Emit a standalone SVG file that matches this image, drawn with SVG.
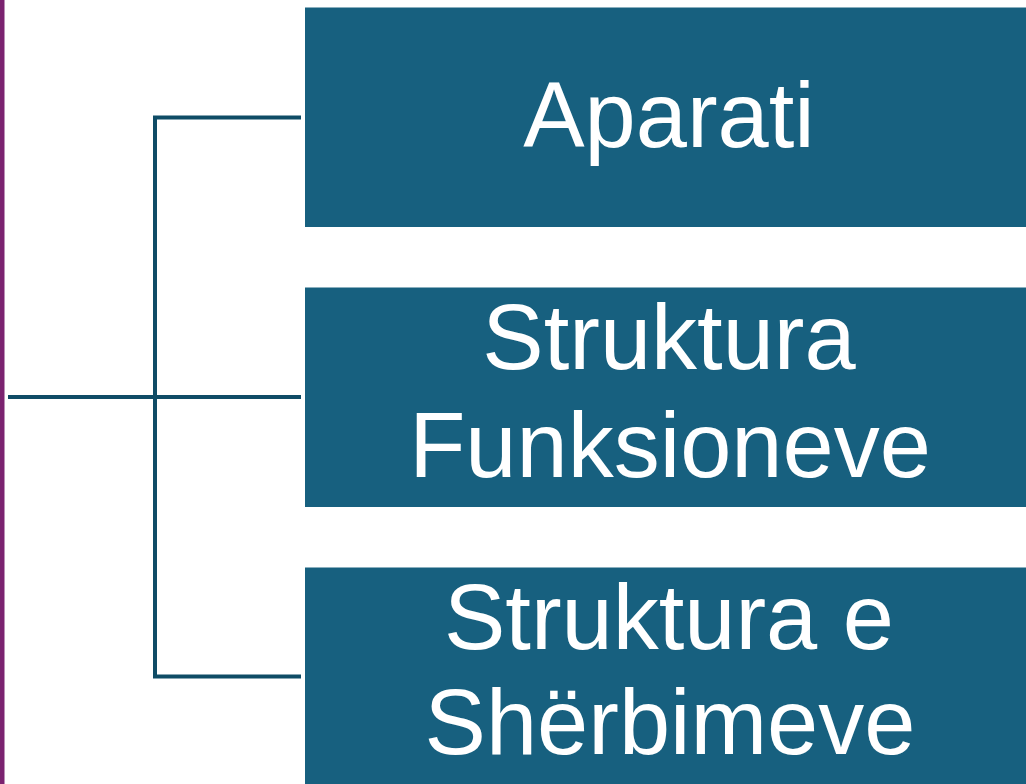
<svg xmlns="http://www.w3.org/2000/svg" width="1026" height="784" viewBox="0 0 1026 784">
<style>
.box{fill:#17607F}
.lbl{font-family:"Liberation Sans",Arial,sans-serif;font-size:92px;fill:#FFFFFF;text-anchor:middle}
.con{stroke:#0F4C66;stroke-width:4;fill:none}
</style>
<rect x="0" y="0" width="1026" height="784" fill="#FFFFFF"/>
<rect x="0" y="0" width="4.5" height="784" fill="#7B2370"/>
<g id="connectors">
<path class="con" d="M8 397 H301"/>
<path class="con" d="M155 117.5 V676.5"/>
<path class="con" d="M153 117.5 H301"/>
<path class="con" d="M153 676.5 H301"/>
</g>
<g id="node-aparati">
<rect class="box" x="305" y="7.5" width="721" height="219.5"/>
<text class="lbl" x="669" y="147">Aparati</text>
</g>
<g id="node-funksioneve">
<rect class="box" x="305" y="287.5" width="721" height="219.5"/>
<text class="lbl" x="669" y="369">Struktura</text>
<text class="lbl" x="670" y="477">Funksioneve</text>
</g>
<g id="node-sherbimeve">
<rect class="box" x="305" y="567.5" width="721" height="216.5"/>
<text class="lbl" x="669" y="649">Struktura e</text>
<text class="lbl" x="670" y="754">Shërbimeve</text>
</g>
</svg>
